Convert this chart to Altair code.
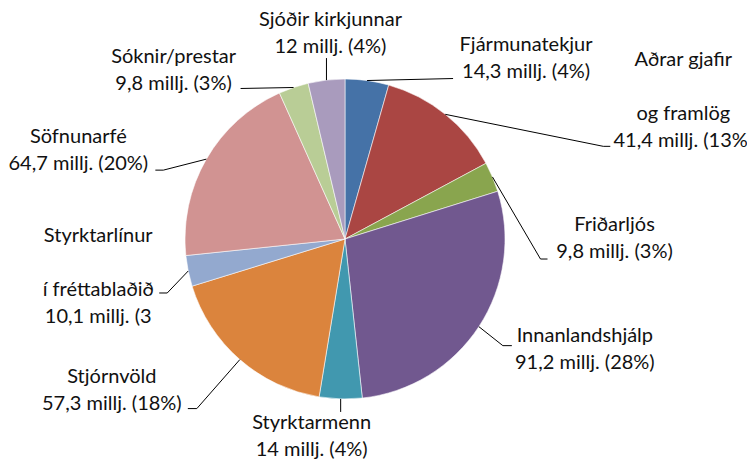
import altair as alt
import pandas as pd

# ---- data ----
categories = [
    "Fjármunatekjur",
    "Aðrar gjafir og framlög",
    "Friðarljós",
    "Innanlandshjálp",
    "Styrktarmenn",
    "Stjórnvöld",
    "Styrktarlínur í fréttablaðið",
    "Söfnunarfé",
    "Sóknir/prestar",
    "Sjóðir kirkjunnar",
]
values = [14.3, 41.4, 9.8, 91.2, 14.0, 57.3, 10.1, 64.7, 9.8, 12.0]
label_lines = [
    ["Fjármunatekjur", "14,3 millj. (4%)"],
    ["Aðrar gjafir", "", "og framlög", "41,4 millj. (13%)"],
    ["Friðarljós", "9,8 millj. (3%)"],
    ["Innanlandshjálp", "91,2 millj. (28%)"],
    ["Styrktarmenn", "14 millj. (4%)"],
    ["Stjórnvöld", "57,3 millj. (18%)"],
    ["Styrktarlínur", "", "í fréttablaðið", "10,1 millj. (3"],
    ["Söfnunarfé", "64,7 millj. (20%)"],
    ["Sóknir/prestar", "9,8 millj. (3%)"],
    ["Sjóðir kirkjunnar", "12 millj. (4%)"],
]

# ---- styles / layout ----
colors = ["#4572A7", "#AA4643", "#89A54E", "#71588F", "#4198AF",
          "#DB843D", "#93A9CF", "#D19392", "#B9CD96", "#A99BBD"]

W, H = 739, 451
CX, CY, R = 337, 231, 160
LINE_H = 27

# label layout, offsets (px) from each slice's mid-point on the rim:
# (first-line dx, first-line dy, elbow dx, elbow dy, end dx, end dy)
layout = {
    "Fjármunatekjur":               (159, -36, 86, -2, 86, -2),
    "Aðrar gjafir og framlög":      (238, -54, 158, 32, 165, 32),
    "Friðarljós":                   (122, 48, 48, 82, 55, 82),
    "Innanlandshjálp":              (106, 9, 24, 19, 33, 19),
    "Styrktarmenn":                 (-29, 24, 0, 13, 0, 13),
    "Stjórnvöld":                   (-128, 17, -43, 49, -52, 49),
    "Styrktarlínur í fréttablaðið": (-90, -35, -21, 22, -29, 22),
    "Söfnunarfé":                   (-128, -22, -43, 11, -51, 11),
    "Sóknir/prestar":               (-120, -30, -53, 1, -53, 1),
    "Sjóðir kirkjunnar":            (4, -60, 0, -22, 0, -22),
}

# one row per label line; line 0 carries the slice value for the pie geometry
rows = []
for i, (c, v, lines) in enumerate(zip(categories, values, label_lines)):
    tdx, tdy, edx, edy, fdx, fdy = layout[c]
    for j, t in enumerate(lines):
        rows.append(dict(idx=i, line=j, category=c, value=v, text=t,
                         tdx=tdx, tdy=tdy, edx=edx, edy=edy, fdx=fdx, fdy=fdy))
df = pd.DataFrame(rows)

xs = alt.Scale(domain=[0, W], nice=False, zero=False)
ys = alt.Scale(domain=[0, H], nice=False, zero=False, reverse=True)

base = alt.Chart(df)

pie = base.transform_filter("datum.line == 0").mark_arc(
    stroke="#ffffff", strokeWidth=0.8, strokeOpacity=0.7
).encode(
    theta=alt.Theta("value:Q", stack=True),
    order=alt.Order("idx:Q"),
    color=alt.Color("category:N", sort=categories,
                    scale=alt.Scale(domain=categories, range=colors), legend=None),
    x=alt.value(CX),
    y=alt.value(CY),
    radius=alt.value(R),
)

geo = base.transform_calculate(
    v0="datum.line == 0 ? datum.value : 0"
).transform_joinaggregate(
    total="sum(v0)"
).transform_window(
    cum="sum(v0)", sort=[alt.SortField("idx"), alt.SortField("line")]
).transform_calculate(
    mid="2*PI*(datum.cum - datum.value/2)/datum.total"
).transform_calculate(
    px=f"{CX} + {R}*sin(datum.mid)",
    py=f"{CY} - {R}*cos(datum.mid)",
).transform_calculate(
    ex="datum.px + datum.edx", ey="datum.py + datum.edy",
    fx="datum.px + datum.fdx", fy="datum.py + datum.fdy",
    tx="datum.px + datum.tdx", ty=f"datum.py + datum.tdy + datum.line*{LINE_H}",
)

leaders = geo.transform_filter("datum.line == 0")

lead1 = leaders.mark_rule(color="#000000", strokeWidth=1).encode(
    x=alt.X("px:Q", scale=xs, axis=None),
    y=alt.Y("py:Q", scale=ys, axis=None),
    x2="ex:Q", y2="ey:Q",
)
lead2 = leaders.mark_rule(color="#000000", strokeWidth=1).encode(
    x=alt.X("ex:Q", scale=xs, axis=None),
    y=alt.Y("ey:Q", scale=ys, axis=None),
    x2="fx:Q", y2="fy:Q",
)
labels = geo.transform_filter("datum.text != ''").mark_text(
    align="center", baseline="middle",
    font="Lato", fontSize=20, color="#111111",
).encode(
    x=alt.X("tx:Q", scale=xs, axis=None),
    y=alt.Y("ty:Q", scale=ys, axis=None),
    text="text:N",
)

chart = alt.layer(pie, lead1, lead2, labels).properties(
    width=W, height=H, autosize="none", padding=0,
).configure_view(stroke=None)

chart.save("out.html", embed_options={"renderer": "svg", "actions": False})
